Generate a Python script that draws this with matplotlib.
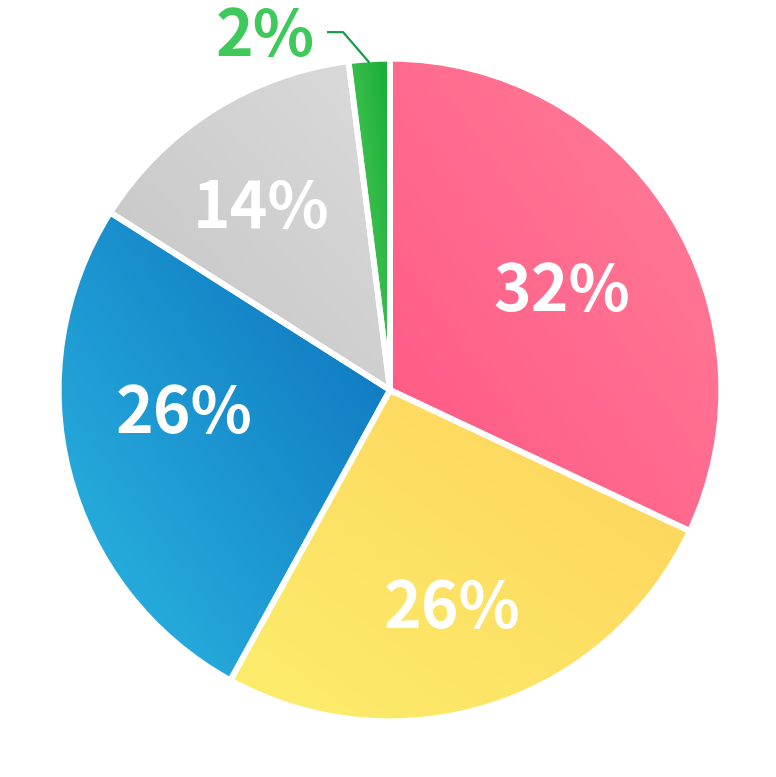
import numpy as np
import matplotlib.pyplot as plt
from matplotlib.colors import LinearSegmentedColormap

# data
labels = ['32%', '26%', '26%', '14%', '2%']
values = [32, 26, 26, 14, 2]
# gradient colours (lower-left -> upper-right) for each slice
grad_colors = [
    ('#ff5783', '#ff7f99'),
    ('#fcee6c', '#fed25b'),
    ('#2cb9e3', '#0b6fbc'),
    ('#c4c4c4', '#dbdbdb'),
    ('#5ad265', '#18ac33'),
]
# label placement (radius fraction, angle offset in degrees)
label_pos = [(0.61, -1.5), (0.68, -1.7), (0.63, -8.9), (0.69, 2.4)]

plt.rcParams['font.family'] = ['Noto Sans CJK JP', 'DejaVu Sans']

fig = plt.figure(figsize=(7.76, 7.77), dpi=100)
ax = fig.add_axes([0, 0, 1, 1])

wedges, _ = ax.pie(values, startangle=90, counterclock=False, radius=1.01,
                   colors=['none'] * len(values),
                   wedgeprops=dict(edgecolor='white', linewidth=4.2))

scale = 328.0

# gradient fill clipped to each wedge
for w, (c0, c1) in zip(wedges, grad_colors):
    cmap = LinearSegmentedColormap.from_list('g', [c0, c1])
    x = np.linspace(0, 1, 200)
    xx, yy = np.meshgrid(x, x)
    grad = (xx + yy) / 2
    bb = w.get_path().get_extents(w.get_patch_transform())
    im = ax.imshow(grad, cmap=cmap, origin='lower', interpolation='bilinear',
                   extent=[bb.x0, bb.x1, bb.y0, bb.y1], zorder=0.5, aspect='auto')
    im.set_clip_path(w)
    w.set_zorder(1)

ax.set_xlim(-390 / scale, (776 - 390) / scale)
ax.set_ylim(-(777 - 390) / scale, 390 / scale)
ax.axis('off')

dy = -0.015
# inside labels
for w, lab, (r, off) in zip(wedges[:4], labels[:4], label_pos):
    mid = np.deg2rad((w.theta1 + w.theta2) / 2 + off)
    ax.text(r * np.cos(mid), r * np.sin(mid) + dy, lab, ha='center', va='center',
            color='white', fontsize=46, fontweight='bold', zorder=3)

# small slice label with leader line
g = wedges[4]
mid = np.deg2rad((g.theta1 + g.theta2) / 2)
p0 = (np.cos(mid), np.sin(mid))
ax.plot([p0[0], -0.143, -0.192], [p0[1], 1.091, 1.091], color='#179a4e',
        linewidth=1.6, zorder=3, solid_capstyle='butt')
ax.text(-0.381, 1.091 + dy, labels[4], ha='center', va='center', color='#3fc85b',
        fontsize=46, fontweight='bold', zorder=3)

fig.savefig('out.png', dpi=100, facecolor='white')
